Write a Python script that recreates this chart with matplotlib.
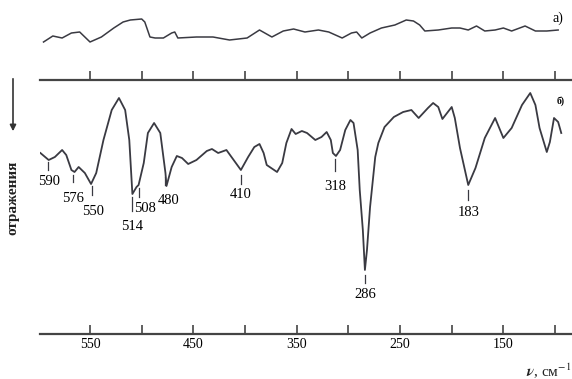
import numpy as np
import matplotlib
matplotlib.use("Agg")
import matplotlib.pyplot as plt

plt.rcParams['font.family'] = ['Liberation Serif', 'DejaVu Serif']
plt.rcParams['mathtext.fontset'] = 'stix'

# spectrum a) (upper trace), wavenumber cm-1 / arbitrary reflectance
nu_a = [595, 586, 577, 568, 560, 550, 539, 527, 518, 511, 500, 497, 492, 487,
        479, 471, 468, 465, 447, 431, 415, 398, 386, 374, 363, 353, 342, 329,
        319, 306, 297, 292, 287, 279, 268, 255, 244, 237, 231, 226, 213, 200,
        192, 184, 176, 168, 158, 150, 142, 129, 119, 108, 97]
r_a = [38, 44, 42, 47, 48, 38, 43, 52, 58, 60, 61, 58, 43, 42,
       42, 47, 48, 42, 43, 43, 40, 42, 50, 43, 49, 51, 48, 50,
       48, 42, 47, 48, 42, 47, 52, 55, 60, 59, 55, 49, 50, 52,
       52, 50, 54, 49, 50, 52, 49, 54, 49, 49, 50]

# spectrum б) (lower trace)
nu_b = [598, 590, 584, 577, 573, 568, 565, 561, 555, 549, 544, 537, 529, 522,
        516, 512, 509, 505, 503, 498, 494, 488, 482, 477, 476, 471, 466, 461,
        455, 447, 437, 432, 426, 418, 411, 404, 397, 391, 386, 382, 379, 369,
        364, 360, 355, 351, 345, 340, 332, 326, 321, 317, 315, 312, 308, 303,
        298, 295, 291, 289, 286, 284, 282, 279, 274, 271, 265, 256, 247, 239,
        232, 223, 218, 213, 209, 200, 197, 192, 184, 177, 168, 158, 154, 150,
        142, 132, 124, 119, 115, 108, 105, 101, 97, 94]
r_b = [181, 174, 177, 184, 179, 164, 162, 167, 161, 150, 161, 194, 224, 236,
       224, 194, 140, 147, 149, 171, 201, 211, 201, 161, 148, 167, 178, 176,
       170, 174, 183, 185, 181, 184, 174, 164, 177, 187, 190, 181, 169, 162,
       171, 191, 205, 200, 203, 201, 194, 197, 202, 194, 181, 178, 184, 204,
       214, 211, 184, 144, 104, 64, 84, 127, 177, 191, 207, 217, 222, 224,
       216, 226, 231, 227, 215, 227, 216, 186, 149, 166, 196, 216, 206, 196,
       206, 229, 241, 229, 206, 182, 192, 216, 212, 201]

# marked bands
peak_pos = [591, 566, 548, 509, 503, 477, 404, 313, 284, 184]
peak_labels = ['590', '576', '550', '514', '508', '480', '410', '318', '286', '183']

axis_ticks = [550, 500, 450, 400, 350, 300, 250, 200, 150, 100]
axis_labels = ['550', '', '450', '', '350', '', '250', '', '150', '']

W, H = 572, 379
line_col = '#3a3a42'
ax_col = '#444444'

fig = plt.figure(figsize=(W / 100, H / 100), dpi=100)
ax_a = fig.add_axes([40 / W, 1 - 80 / H, 1 - 40 / W, 80 / H])
ax_b = fig.add_axes([40 / W, 1 - 334 / H, 1 - 40 / W, (334 - 86) / H])

for ax in (ax_a, ax_b):
    ax.set_xlim(598.4, 83.6)
    for s in ('top', 'left', 'right'):
        ax.spines[s].set_visible(False)
    ax.spines['bottom'].set_linewidth(1.6)
    ax.spines['bottom'].set_color(ax_col)
    ax.set_yticks([])
    ax.set_xticks(axis_ticks)
    ax.tick_params(axis='x', direction='in', length=6.5, width=1.2,
                   color=ax_col, labelsize=10, pad=3)
    ax.patch.set_alpha(0)

ax_a.set_ylim(0, 80)
ax_a.set_xticklabels([])
ax_b.set_ylim(0, 248)
ax_b.set_xticklabels(axis_labels)

ax_a.plot(nu_a, r_a, color=line_col, lw=1.1)
ax_b.plot(nu_b, r_b, color=line_col, lw=1.3)

# band markers: gap above tick, tick length, text drop and shift (pixels)
gaps = [3, 4, 4, 3, 3, 4, 5, 4, 5, 5]
tick_lens = [8, 7, 9, 14, 9, 8, 9, 12, 8, 10]
drops = [11, 16, 17, 16, 11, 15, 11, 15, 11, 13]
shifts = [1, 0, 1, 0, 6.4, 3, 0, 0, 0, 0]
px = 0.9677  # cm-1 per pixel
xs = np.array(nu_b[::-1])
ys = np.array(r_b[::-1])
for pos, lab, gap, tl, drop, sh in zip(peak_pos, peak_labels, gaps, tick_lens,
                                       drops, shifts):
    y0 = np.interp(pos, xs, ys) - gap
    y1 = y0 - tl
    ax_b.plot([pos, pos], [y0, y1], color=line_col, lw=0.9)
    ax_b.text(pos - sh * px, y1 - drop, lab, ha='center', va='center',
              fontsize=10.5)

ax_a.text(97, 62, 'а)', ha='center', va='center', fontsize=10)
ax_b.text(95, 233, 'б)', ha='center', va='center', fontsize=7, fontweight='bold')

# ordinate arrow and caption
ax_b.annotate('', xy=(13 / W, 1 - 134 / H), xytext=(13 / W, 1 - 76 / H),
              xycoords='figure fraction', textcoords='figure fraction',
              arrowprops=dict(arrowstyle='-|>', lw=1.2, color='#333333',
                              mutation_scale=9),
              annotation_clip=False)
fig.text(13 / W, 1 - 198 / H, 'отражения', rotation=90, ha='center',
         va='center', fontsize=11, fontweight='bold', color='#222222')
fig.text(571 / W, 1 - 371 / H, r'$\boldsymbol{\nu}$, см$^{-1}$', ha='right',
         va='center', fontsize=11, color='#222222')

fig.savefig('out.png', dpi=100, facecolor='white')
